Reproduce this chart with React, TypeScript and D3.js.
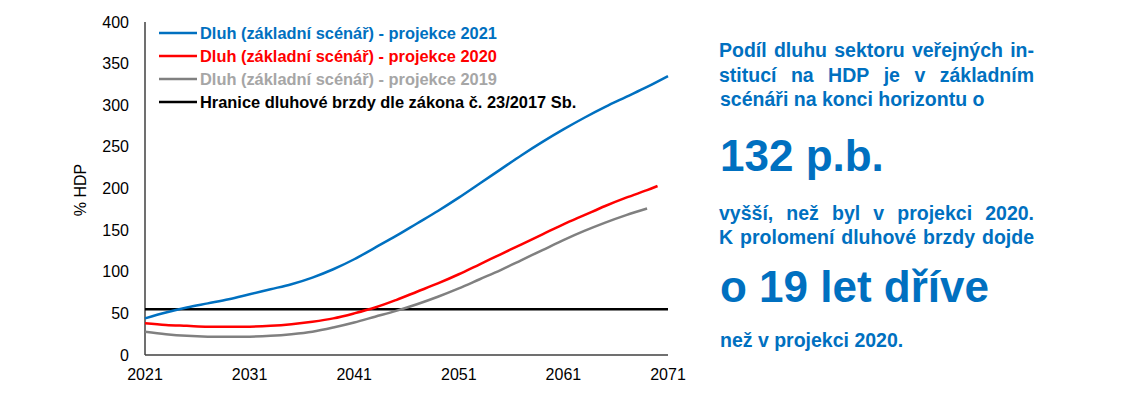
import React, { useEffect, useRef } from "react";
import * as d3 from "d3";

const tickYears = [2021, 2031, 2041, 2051, 2061, 2071];
const yTicks = [0, 50, 100, 150, 200, 250, 300, 350, 400];

const years2021 = [2021, 2023, 2025, 2027, 2029, 2031, 2033, 2035, 2037, 2039, 2041, 2043, 2045, 2047, 2049, 2051, 2053, 2055, 2057, 2059, 2061, 2063, 2065, 2067, 2069, 2071];
const debt2021 = [44, 51, 57, 62, 67, 73, 79, 85, 93, 103, 115, 129, 143, 158, 173, 189, 206, 223, 240, 256, 271, 285, 298, 310, 322, 335];

const years2020 = [2021, 2023, 2025, 2027, 2029, 2031, 2033, 2035, 2037, 2039, 2041, 2043, 2045, 2047, 2049, 2051, 2053, 2055, 2057, 2059, 2061, 2063, 2065, 2067, 2069, 2070];
const debt2020 = [38, 36, 35, 34, 34, 34, 35, 37, 40, 44, 50, 57, 66, 76, 86, 97, 109, 121, 133, 145, 157, 168, 179, 189, 198, 203];

const years2019 = [2021, 2023, 2025, 2027, 2029, 2031, 2033, 2035, 2037, 2039, 2041, 2043, 2045, 2047, 2049, 2051, 2053, 2055, 2057, 2059, 2061, 2063, 2065, 2067, 2069];
const debt2019 = [28, 25, 23, 22, 22, 22, 23, 25, 28, 33, 39, 46, 53, 61, 70, 80, 91, 102, 114, 126, 138, 149, 159, 168, 176];

const brakeYears = [2021, 2071];
const brakeValues = [55, 55];

const legendLabels = [
  "Dluh (základní scénář) - projekce 2021",
  "Dluh (základní scénář) - projekce 2020",
  "Dluh (základní scénář) - projekce 2019",
  "Hranice dluhové brzdy dle zákona č. 23/2017 Sb.",
];
const legendLineColors = ["#0070C0", "#FF0000", "#808080", "#000000"];
const legendTextColors = ["#0070C0", "#FF0000", "#A6A6A6", "#000000"];

const sideLines = [
  { text: "Podíl dluhu sektoru veřejných in-", big: false, justify: true, y: 57 },
  { text: "stitucí na HDP je v základním", big: false, justify: true, y: 82 },
  { text: "scénáři na konci horizontu o", big: false, justify: false, y: 106 },
  { text: "132 p.b.", big: true, justify: false, y: 171 },
  { text: "vyšší, než byl v projekci 2020.", big: false, justify: true, y: 220 },
  { text: "K prolomení dluhové brzdy dojde", big: false, justify: true, y: 244 },
  { text: "o 19 let dříve", big: true, justify: false, y: 302 },
  { text: "než v projekci 2020.", big: false, justify: false, y: 347 },
];

const FONT = "'Liberation Sans', Arial, sans-serif";

export default function App() {
  const ref = useRef<SVGSVGElement | null>(null);

  useEffect(() => {
    document.body.style.margin = "0";
    const svg = d3.select(ref.current);
    svg.selectAll("*").remove();

    const x = d3.scaleLinear().domain([2021, 2071]).range([145, 668]);
    const y = d3.scaleLinear().domain([0, 400]).range([355, 22]);

    const line = d3
      .line<[number, number]>()
      .x((d) => x(d[0]))
      .y((d) => y(d[1]))
      .curve(d3.curveCatmullRom.alpha(0.5));

    // axes
    svg.append("line").attr("x1", x(2021)).attr("x2", x(2021)).attr("y1", y(400)).attr("y2", y(0))
      .attr("stroke", "#404040").attr("stroke-width", 1.5);
    svg.append("line").attr("x1", x(2021)).attr("x2", x(2071)).attr("y1", y(0)).attr("y2", y(0))
      .attr("stroke", "#404040").attr("stroke-width", 1.5);

    svg.append("g").selectAll("text").data(yTicks).join("text")
      .attr("x", 129).attr("y", (d) => y(d)).attr("dy", "0.35em")
      .attr("text-anchor", "end").attr("font-family", FONT).attr("font-size", 16)
      .attr("fill", "#000").text((d) => d);

    svg.append("g").selectAll("text").data(tickYears).join("text")
      .attr("x", (d) => x(d)).attr("y", 380)
      .attr("text-anchor", "middle").attr("font-family", FONT).attr("font-size", 16)
      .attr("fill", "#000").text((d) => d);

    svg.append("text").attr("transform", "translate(86,190) rotate(-90)")
      .attr("text-anchor", "middle").attr("font-family", FONT).attr("font-size", 16)
      .attr("fill", "#000").text("% HDP");

    const series: { xs: number[]; ys: number[]; color: string }[] = [
      { xs: brakeYears, ys: brakeValues, color: "#000000" },
      { xs: years2019, ys: debt2019, color: "#808080" },
      { xs: years2020, ys: debt2020, color: "#FF0000" },
      { xs: years2021, ys: debt2021, color: "#0070C0" },
    ];
    series.forEach((s) => {
      const pts = s.xs.map((v, i) => [v, s.ys[i]] as [number, number]);
      svg.append("path").attr("d", line(pts)).attr("fill", "none")
        .attr("stroke", s.color).attr("stroke-width", 2.5);
    });

    // legend
    const lg = svg.append("g");
    legendLabels.forEach((lab, i) => {
      const cy = 33 + i * 23;
      lg.append("line").attr("x1", 159).attr("x2", 197).attr("y1", cy).attr("y2", cy)
        .attr("stroke", legendLineColors[i]).attr("stroke-width", 2.5);
      lg.append("text").attr("x", 200).attr("y", cy + 6).attr("font-family", FONT)
        .attr("font-size", 16.4).attr("font-weight", "bold").attr("fill", legendTextColors[i]).text(lab);
    });

    // side text
    const left = 719;
    const right = 1034;
    const sg = svg.append("g");
    sideLines.forEach((ln) => {
      const size = ln.big ? 44 : 19.5;
      if (!ln.justify) {
        sg.append("text").attr("x", left + 1).attr("y", ln.y).attr("font-family", FONT)
          .attr("font-size", size).attr("font-weight", "bold").attr("fill", "#0070C0").text(ln.text);
        return;
      }
      const words = ln.text.split(" ");
      const nodes = words.map((w) =>
        sg.append("text").attr("y", ln.y).attr("font-family", FONT).attr("font-size", size)
          .attr("font-weight", "bold").attr("fill", "#0070C0").text(w)
      );
      const widths = nodes.map((n) => (n.node() as SVGTextElement).getComputedTextLength());
      const total = widths.reduce((a, b) => a + b, 0);
      const gap = words.length > 1 ? (right - left - total) / (words.length - 1) : 0;
      let cx = left;
      nodes.forEach((n, i) => {
        n.attr("x", cx);
        cx += widths[i] + gap;
      });
    });
  }, []);

  return <svg ref={ref} width={1125} height={394} style={{ display: "block", background: "#fff" }} />;
}
